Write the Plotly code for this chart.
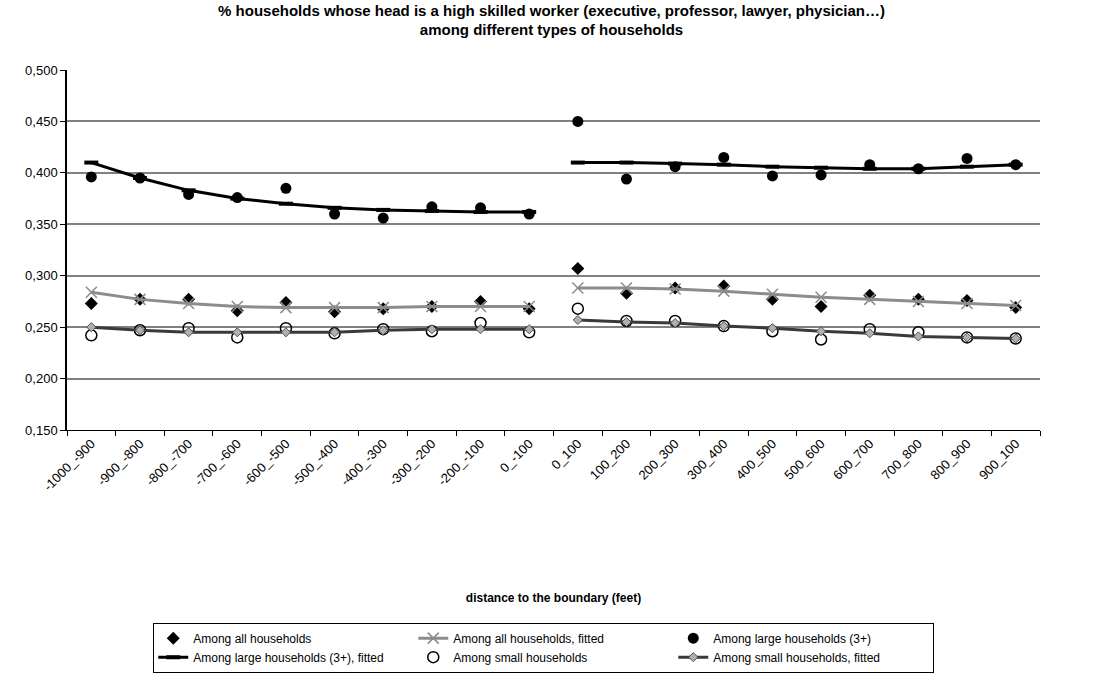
import plotly.graph_objects as go

# Distance bands on both sides of the boundary
categories = [
    "-1000_-900", "-900_-800", "-800_-700", "-700_-600", "-600_-500",
    "-500_-400", "-400_-300", "-300_-200", "-200_-100", "0_-100",
    "0_100", "100_200", "200_300", "300_400", "400_500",
    "500_600", "600_700", "700_800", "800_900", "900_100",
]

all_hh = [0.273, 0.277, 0.277, 0.266, 0.274, 0.265, 0.268, 0.270, 0.275, 0.268,
          0.307, 0.283, 0.288, 0.290, 0.277, 0.270, 0.281, 0.277, 0.276, 0.269]
all_hh_fit = [0.284, 0.277, 0.273, 0.270, 0.269, 0.269, 0.269, 0.270, 0.270, 0.270,
              0.288, 0.288, 0.287, 0.285, 0.282, 0.279, 0.277, 0.275, 0.273, 0.271]
large_hh = [0.396, 0.395, 0.379, 0.376, 0.385, 0.360, 0.356, 0.367, 0.366, 0.360,
            0.450, 0.394, 0.406, 0.415, 0.397, 0.398, 0.408, 0.404, 0.414, 0.408]
large_hh_fit = [0.410, 0.395, 0.383, 0.375, 0.370, 0.366, 0.364, 0.363, 0.362, 0.362,
                0.410, 0.410, 0.409, 0.408, 0.406, 0.405, 0.404, 0.404, 0.406, 0.408]
small_hh = [0.242, 0.247, 0.249, 0.240, 0.249, 0.244, 0.248, 0.246, 0.254, 0.245,
            0.268, 0.256, 0.256, 0.251, 0.246, 0.238, 0.248, 0.245, 0.240, 0.239]
small_hh_fit = [0.250, 0.247, 0.245, 0.245, 0.245, 0.245, 0.247, 0.248, 0.248, 0.248,
                0.257, 0.255, 0.254, 0.251, 0.249, 0.246, 0.244, 0.241, 0.240, 0.239]

left = slice(0, 10)
right = slice(10, 20)

FONT = "Liberation Sans, Arial, sans-serif"

fig = go.Figure()


def fitted(name, values, line, marker, group):
    # Fitted curves are drawn separately on each side of the boundary
    for part, show in ((left, True), (right, False)):
        fig.add_trace(go.Scatter(
            x=categories[part], y=values[part], mode="lines+markers",
            name=name, legendgroup=group, showlegend=show,
            line=line, marker=marker,
        ))


fig.add_trace(go.Scatter(
    x=categories, y=all_hh, mode="markers", name="Among all households",
    marker=dict(symbol="diamond", size=10, color="black"),
))
fitted("Among all households, fitted", all_hh_fit,
       dict(color="#8c8c8c", width=3),
       dict(symbol="x-thin", size=11, color="#8c8c8c",
            line=dict(color="#8c8c8c", width=1.5)),
       "allfit")
fig.add_trace(go.Scatter(
    x=categories, y=large_hh, mode="markers", name="Among large households (3+)",
    marker=dict(symbol="circle", size=11, color="black"),
))
fitted("Among large households (3+), fitted", large_hh_fit,
       dict(color="black", width=3),
       dict(symbol="line-ew", size=10, color="black",
            line=dict(color="black", width=4)),
       "largefit")
fig.add_trace(go.Scatter(
    x=categories, y=small_hh, mode="markers", name="Among small households",
    marker=dict(symbol="circle-open", size=11, color="black",
                line=dict(color="black", width=1.5)),
))
fitted("Among small households, fitted", small_hh_fit,
       dict(color="#3a3a3a", width=3),
       dict(symbol="diamond", size=7, color="#b0b0b0",
            line=dict(color="#505050", width=1)),
       "smallfit")

fig.update_layout(
    width=1103, height=674,
    margin=dict(l=67, r=63, t=70, b=244),
    paper_bgcolor="white", plot_bgcolor="white",
    separators=", ",
    font=dict(family=FONT, size=12, color="black"),
    title=dict(
        text="<b>% households whose head is a high skilled worker (executive, professor, lawyer, physician…)"
             "<br>among different types of households</b>",
        x=0.5, xanchor="center", y=0.977, yanchor="top",
        font=dict(family=FONT, size=15, color="black"),
    ),
    showlegend=True,
    legend=dict(
        orientation="h", x=0.49, xanchor="center",
        y=0.002, yref="container", yanchor="bottom",
        bordercolor="black", borderwidth=1, bgcolor="white",
        font=dict(family=FONT, size=12, color="black"),
        entrywidth=215, entrywidthmode="pixels",
        tracegroupgap=0, itemwidth=30,
    ),
    xaxis=dict(
        type="category", categoryorder="array", categoryarray=categories,
        range=[-0.5, 19.5], autorange=False,
        tickangle=-45, showgrid=False, showline=True, linecolor="black",
        linewidth=1, ticks="outside", ticklen=5, tickcolor="black",
        tickson="boundaries",
        tickfont=dict(family=FONT, size=13, color="black"),
        title=dict(text="<b>distance to the boundary (feet)</b>",
                   font=dict(family=FONT, size=12, color="black"), standoff=100),
    ),
    yaxis=dict(
        range=[0.15, 0.5], dtick=0.05, tick0=0.15, tickformat=".3f",
        showgrid=True, gridcolor="#808080", gridwidth=1.5,
        showline=True, linecolor="black", linewidth=1.5,
        ticks="outside", ticklen=5, tickcolor="black", zeroline=False,
        tickfont=dict(family=FONT, size=13, color="black"),
    ),
)

fig.write_html("out.html")
